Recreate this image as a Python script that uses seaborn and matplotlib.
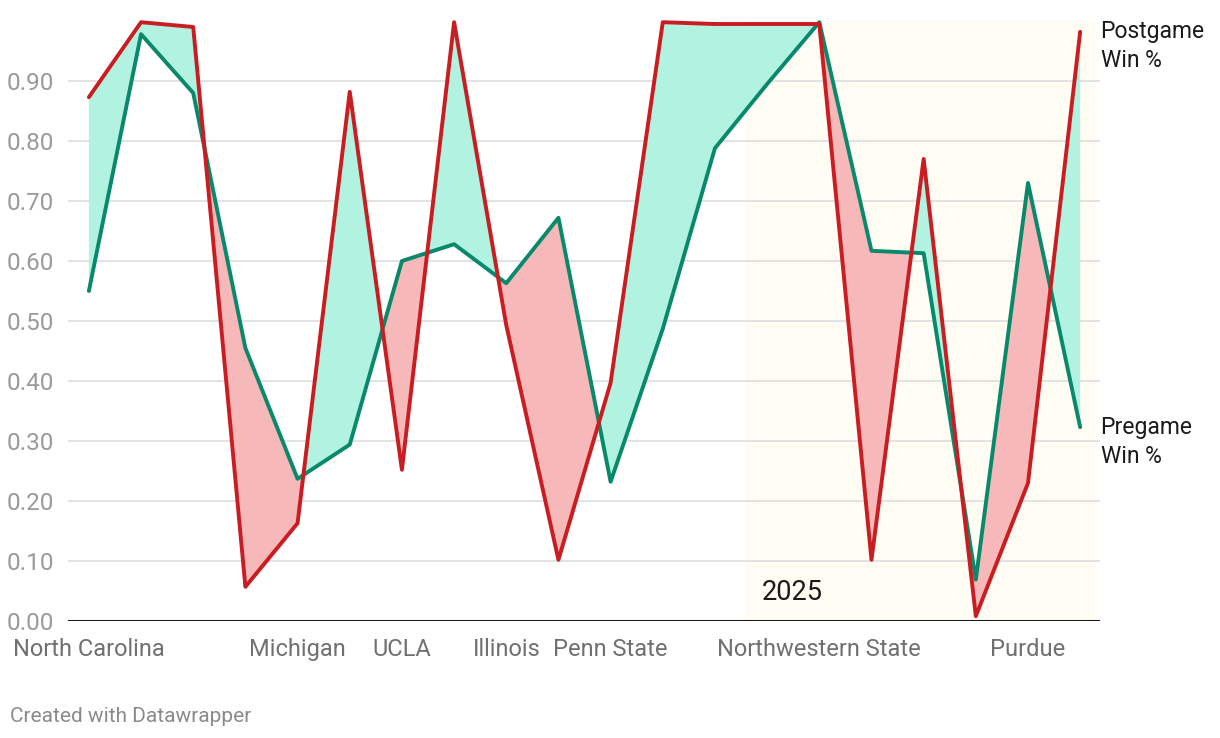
import numpy as np
import pandas as pd
import matplotlib.pyplot as plt
import seaborn as sns

# games, in order (2024 season then 2025 season)
games = [
    "North Carolina", "Rhode Island", "Nevada", "Iowa", "Michigan", "USC",
    "UCLA", "Maryland", "Illinois", "Rutgers", "Penn State", "Wisconsin",
    "Virginia Tech", "Buffalo", "Northwestern State", "California",
    "Rutgers ", "Ohio State", "Purdue", "Nebraska",
]
postgame = [0.873, 0.998, 0.99, 0.057, 0.163, 0.882, 0.252, 0.998, 0.493, 0.102,
            0.397, 0.998, 0.995, 0.995, 0.995, 0.102, 0.77, 0.008, 0.23, 0.982]
pregame = [0.55, 0.978, 0.88, 0.455, 0.237, 0.294, 0.60, 0.628, 0.563, 0.672,
           0.232, 0.487, 0.788, 0.895, 0.998, 0.617, 0.613, 0.069, 0.73, 0.323]
shown_labels = ["North Carolina", "Michigan", "UCLA", "Illinois", "Penn State",
                "Northwestern State", "Purdue"]
yticks = [0.0, 0.1, 0.2, 0.3, 0.4, 0.5, 0.6, 0.7, 0.8, 0.9]

df = pd.DataFrame({"game": games, "idx": np.arange(len(games)),
                   "Postgame": postgame, "Pregame": pregame})

sns.set_theme(style="white")
plt.rcParams["font.family"] = ["Roboto", "DejaVu Sans"]

green = "#09896c"
red = "#c91d22"

fig = plt.figure(figsize=(12.2, 7.38), dpi=100)
ax = fig.add_axes([68 / 1220, 117 / 738, 1032 / 1220, 600 / 738])

# 2025 season shading
ax.axvspan(12.6, 19.31, color="#fffcf3", zorder=0, lw=0)

for t in yticks[1:]:
    ax.axhline(t, color="#e3e3e3", lw=1.4, zorder=1)

x = df["idx"].values
pre = df["Pregame"].values
post = df["Postgame"].values
ax.fill_between(x, pre, post, where=post >= pre, interpolate=True,
                color="#b2f2e0", lw=0, zorder=2)
ax.fill_between(x, pre, post, where=post < pre, interpolate=True,
                color="#f6b8b8", lw=0, zorder=2)

sns.lineplot(data=df, x="idx", y="Pregame", color=green, lw=2.8, ax=ax,
             zorder=4, clip_on=False)
sns.lineplot(data=df, x="idx", y="Postgame", color=red, lw=2.8, ax=ax,
             zorder=5, clip_on=False)

ax.set_xlim(-0.4, 19.38)
ax.set_ylim(0, 1.0)
ax.axhline(0, color="#1a1a1a", lw=2.2, zorder=6)

for s in ax.spines.values():
    s.set_visible(False)

ax.set_yticks(yticks)
ax.set_yticklabels([f"{t:.2f}" for t in yticks], fontsize=17.5, color="#9a9a9a")
pos = [games.index(g) for g in shown_labels]
ax.set_xticks(pos)
ax.set_xticklabels(shown_labels, fontsize=17, color="#707070")
ax.tick_params(axis="y", length=0, pad=10)
ax.tick_params(axis="x", length=0, pad=12)
ax.set_xlabel("")
ax.set_ylabel("")

ax.text(12.9, 0.048, "2025", fontsize=19.5, color="#1a1a1a", va="center", ha="left")

ax.text(19.39, 0.958, "Postgame\nWin %", fontsize=16.5, color="#1a1a1a",
        va="center", ha="left", linespacing=1.35)
ax.text(19.39, 0.298, "Pregame\nWin %", fontsize=16.5, color="#1a1a1a",
        va="center", ha="left", linespacing=1.35)

fig.text(10 / 1220, 1 - 716 / 738, "Created with Datawrapper", fontsize=15,
         color="#8a8a8a", va="center", ha="left")

fig.savefig("out.png", dpi=100)
